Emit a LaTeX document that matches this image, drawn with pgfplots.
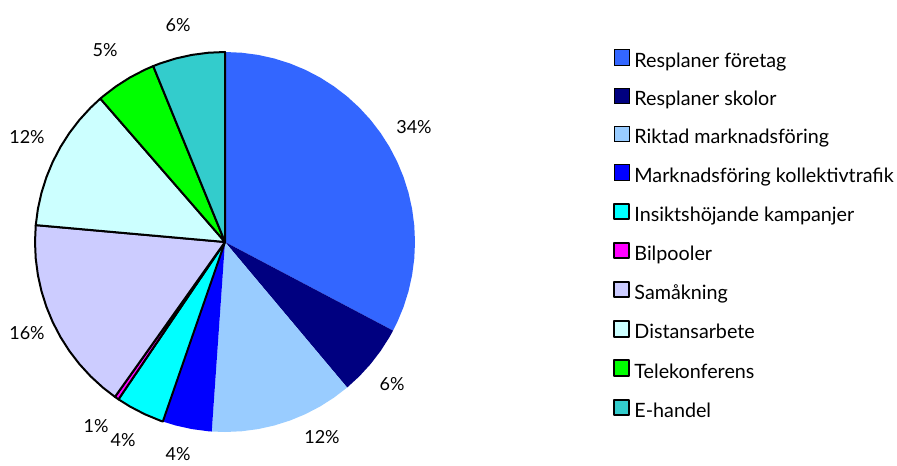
\documentclass[border=0pt]{standalone}
\usepackage{pgfplots}
\pgfplotsset{compat=1.18}
\usepackage{fontspec}
\setmainfont{Lato}
\definecolor{c1}{HTML}{3366FF}
\definecolor{c2}{HTML}{000080}
\definecolor{c3}{HTML}{99CCFF}
\definecolor{c4}{HTML}{0000FF}
\definecolor{c5}{HTML}{00FFFF}
\definecolor{c6}{HTML}{FF00FF}
\definecolor{c7}{HTML}{CCCCFF}
\definecolor{c8}{HTML}{CCFFFF}
\definecolor{c9}{HTML}{00FF00}
\definecolor{c10}{HTML}{33CCCC}
\tikzset{lbl/.style={font=\fontsize{13.5pt}{16pt}\selectfont, inner sep=0pt}}
\begin{document}
\begin{tikzpicture}
\begin{axis}[
  x=0.75pt, y=0.75pt, scale only axis,
  xmin=-225, xmax=672, ymin=-223, ymax=242,
  hide axis, clip=false,
  legend cell align=left,
  legend image code/.code={\draw[#1] (0pt,-1.8pt) rectangle (11.5pt,9.7pt); \path[draw=none,fill=none] (0pt,0pt) -- (15.5pt,0pt);},
  legend style={at={(axis cs:387.5,193)}, anchor=north west, draw=none, fill=none,
    inner sep=0pt, row sep=12.4pt, font=\fontsize{14.8pt}{17pt}\selectfont,
    nodes={inner sep=0pt, text height=10pt, text depth=3pt}},
]
% borderless slices
\addplot[fill=c1, draw=none, data cs=polar] coordinates {(0,0) (90,190) (85,190) (80,190) (75,190) (70,190) (65,190) (60,190) (55,190) (50,190) (45,190) (40,190) (35,190) (30,190) (25,190) (20,190) (15,190) (10,190) (5,190) (0,190) (-5,190) (-10,190) (-15,190) (-20,190) (-25,190) (-27.8,190)} -- cycle;
\addlegendentry{Resplaner företag}
\addplot[fill=c2, draw=none, data cs=polar] coordinates {(0,0) (-27.8,190) (-30,190) (-35,190) (-40,190) (-45,190) (-50,190)} -- cycle;
\addlegendentry{Resplaner skolor}
\addplot[fill=c3, draw=none, data cs=polar] coordinates {(0,0) (-50,190) (-55,190) (-60,190) (-65,190) (-70,190) (-75,190) (-80,190) (-85,190) (-90,190) (-94,190)} -- cycle;
\addlegendentry{Riktad marknadsföring}
\addplot[fill=c4, draw=none, data cs=polar] coordinates {(0,0) (-94,190) (-95,190) (-100,190) (-105,190) (-109.1,190)} -- cycle;
\addlegendentry{Marknadsföring kollektivtrafik}
% bordered slices
\addplot[fill=c5, draw=black, line width=1.5pt, line join=round, data cs=polar] coordinates {(0,0) (-109.1,190) (-110,190) (-115,190) (-120,190) (-124.1,190)} -- cycle;
\addlegendentry{Insiktshöjande kampanjer}
\addplot[fill=c6, draw=black, line width=1.5pt, line join=round, data cs=polar] coordinates {(0,0) (-124.1,190) (-125.4,190)} -- cycle;
\addlegendentry{Bilpooler}
\addplot[fill=c7, draw=black, line width=1.5pt, line join=round, data cs=polar] coordinates {(0,0) (-125.4,190) (-130,190) (-135,190) (-140,190) (-145,190) (-150,190) (-155,190) (-160,190) (-165,190) (-170,190) (-175,190) (-180,190) (-185.1,190)} -- cycle;
\addlegendentry{Samåkning}
\addplot[fill=c8, draw=black, line width=1.5pt, line join=round, data cs=polar] coordinates {(0,0) (-185.1,190) (-190,190) (-195,190) (-200,190) (-205,190) (-210,190) (-215,190) (-220,190) (-225,190) (-229,190)} -- cycle;
\addlegendentry{Distansarbete}
\addplot[fill=c9, draw=black, line width=1.5pt, line join=round, data cs=polar] coordinates {(0,0) (-229,190) (-230,190) (-235,190) (-240,190) (-245,190) (-247.8,190)} -- cycle;
\addlegendentry{Telekonferens}
\addplot[fill=c10, draw=black, line width=1.5pt, line join=round, data cs=polar] coordinates {(0,0) (-247.8,190) (-250,190) (-255,190) (-260,190) (-265,190) (-270,190)} -- cycle;
\addlegendentry{E-handel}
% percentage labels
\node[lbl] at (axis cs:189,115) {34\%};
\node[lbl] at (axis cs:167,-142) {6\%};
\node[lbl] at (axis cs:97,-195) {12\%};
\node[lbl] at (axis cs:-47,-212) {4\%};
\node[lbl] at (axis cs:-102,-198) {4\%};
\node[lbl] at (axis cs:-129,-184) {1\%};
\node[lbl] at (axis cs:-198,-91) {16\%};
\node[lbl] at (axis cs:-198,105) {12\%};
\node[lbl] at (axis cs:-120,192) {5\%};
\node[lbl] at (axis cs:-47,217) {6\%};
\end{axis}
\pgfresetboundingbox
\path (0,0) rectangle (672.75pt,348.75pt);
\end{tikzpicture}
\end{document}
